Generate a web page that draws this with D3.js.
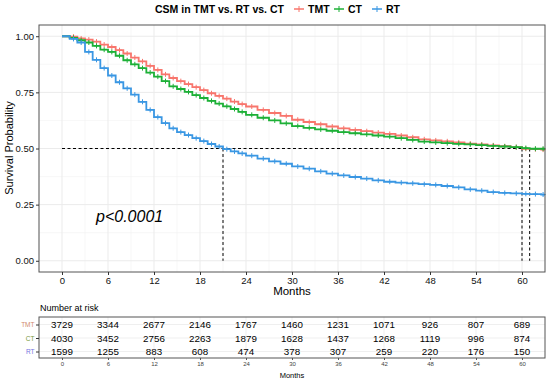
<!DOCTYPE html>
<html lang="en">
<head>
<meta charset="UTF-8">
<title>CSM in TMT vs. RT vs. CT</title>
<script src="https://cdn.jsdelivr.net/npm/d3@7"></script>
<style>
  body { margin: 0; background: #fff; }
  svg { display: block; font-family: 'Liberation Sans', Arial, sans-serif; }
</style>
</head>
<body>
<div id="chart"></div>
<script>
// survival estimates (months -> probability)
var months = [0, 1, 2, 3, 4, 5, 6, 7, 8, 9, 10, 11, 12, 13, 14, 15, 16, 17, 18, 19, 20, 21, 22, 23, 24,
              25.5, 27, 28.5, 30, 31.5, 33, 34.5, 36, 37.5, 39, 40.5, 42, 43.5, 45, 46.5, 48, 49.5, 51, 52.5,
              54, 55.5, 57, 58.5, 60, 61, 62.5];
var tmt = [1.0, 0.998, 0.990, 0.985, 0.976, 0.963, 0.952, 0.938, 0.923, 0.905, 0.888, 0.868, 0.850, 0.830, 0.814, 0.800, 0.787, 0.773, 0.760, 0.746, 0.734, 0.722, 0.709, 0.698, 0.687,
           0.672, 0.658, 0.645, 0.628, 0.618, 0.608, 0.598, 0.590, 0.583, 0.577, 0.571, 0.565, 0.558, 0.550, 0.541, 0.536, 0.532, 0.527, 0.522,
           0.518, 0.514, 0.510, 0.506, 0.499, 0.497, 0.495];
var ct  = [1.0, 0.993, 0.982, 0.972, 0.957, 0.940, 0.930, 0.913, 0.893, 0.875, 0.858, 0.838, 0.820, 0.800, 0.777, 0.765, 0.752, 0.738, 0.725, 0.712, 0.700, 0.688, 0.676, 0.663, 0.650,
           0.637, 0.625, 0.612, 0.600, 0.592, 0.585, 0.579, 0.573, 0.568, 0.563, 0.558, 0.553, 0.546, 0.538, 0.531, 0.527, 0.524, 0.521, 0.518,
           0.515, 0.512, 0.509, 0.506, 0.502, 0.499, 0.499];
var rt  = [1.0, 0.988, 0.972, 0.930, 0.895, 0.858, 0.825, 0.795, 0.768, 0.740, 0.708, 0.672, 0.640, 0.613, 0.590, 0.573, 0.560, 0.546, 0.533, 0.520, 0.509, 0.497, 0.487, 0.478, 0.468,
           0.455, 0.443, 0.432, 0.420, 0.410, 0.398, 0.388, 0.380, 0.373, 0.366, 0.358, 0.352, 0.348, 0.345, 0.341, 0.338, 0.333, 0.327, 0.318,
           0.312, 0.306, 0.302, 0.300, 0.298, 0.297, 0.295];

var groups = ['TMT', 'CT', 'RT'];
var colors = ['#F8766D', '#1DB037', '#3A97E3'];
var labelColors = ['#d08a6e', '#789a3c', '#7474e0'];

var riskTimes = [0, 6, 12, 18, 24, 30, 36, 42, 48, 54, 60];
var riskTMT = [3729, 3344, 2677, 2146, 1767, 1460, 1231, 1071, 926, 807, 689];
var riskCT  = [4030, 3452, 2756, 2263, 1879, 1628, 1437, 1268, 1119, 996, 874];
var riskRT  = [1599, 1255, 883, 608, 474, 378, 307, 259, 220, 176, 150];

var yTicks = [0, 0.25, 0.5, 0.75, 1];

var W = 550, H = 381;
var svg = d3.select('#chart').append('svg').attr('width', W).attr('height', H);

var x = d3.scaleLinear().domain([-3, 63]).range([39, 545]);
var y = d3.scaleLinear().domain([-0.05, 1.05]).range([272, 25]);

var series = [tmt, ct, rt].map(function(s, i) {
  var pts = months.map(function(m, j) { return { t: m, s: s[j] }; });
  pts.push({ t: 63, s: s[s.length - 1] });
  return { name: groups[i], color: colors[i], pts: pts };
});

// grid
var grid = svg.append('g');
var xMinor = d3.range(-3, 64, 6), yMinor = [0.125, 0.375, 0.625, 0.875];
grid.selectAll('.vmin').data(xMinor).enter().append('line')
  .attr('x1', d => x(d)).attr('x2', d => x(d)).attr('y1', 25).attr('y2', 272)
  .attr('stroke', '#f2f2f2').attr('stroke-width', 0.6);
grid.selectAll('.hmin').data(yMinor).enter().append('line')
  .attr('x1', 39).attr('x2', 545).attr('y1', d => y(d)).attr('y2', d => y(d))
  .attr('stroke', '#f2f2f2').attr('stroke-width', 0.6);
grid.selectAll('.vmaj').data(riskTimes).enter().append('line')
  .attr('x1', d => x(d)).attr('x2', d => x(d)).attr('y1', 25).attr('y2', 272)
  .attr('stroke', '#ebebeb').attr('stroke-width', 1);
grid.selectAll('.hmaj').data(yTicks).enter().append('line')
  .attr('x1', 39).attr('x2', 545).attr('y1', d => y(d)).attr('y2', d => y(d))
  .attr('stroke', '#ebebeb').attr('stroke-width', 1);

// median lines
var medians = series.map(function(d) {
  var p = d.pts.find(function(q) { return q.s <= 0.5; });
  return p ? p.t : null;
});
var med = svg.append('g').attr('stroke', '#000').attr('stroke-dasharray', '3,2.5').attr('stroke-width', 1);
med.append('line').attr('x1', x(0)).attr('x2', x(d3.max(medians))).attr('y1', y(0.5)).attr('y2', y(0.5));
medians.forEach(function(m) {
  med.append('line').attr('x1', x(m)).attr('x2', x(m)).attr('y1', y(0.5)).attr('y2', y(0));
});

// curves
var line = d3.line().x(d => x(d.t)).y(d => y(d.s)).curve(d3.curveStepAfter);
series.forEach(function(d) {
  var g = svg.append('g');
  g.append('path').datum(d.pts).attr('d', line)
    .attr('fill', 'none').attr('stroke', d.color).attr('stroke-width', 1.8);
  var marks = d.pts.slice(1, -1).map(function(p, k) {
    return { t: (p.t + d.pts[k + 2].t) / 2, s: p.s };
  });
  g.selectAll('path.cens').data(marks).enter().append('path')
    .attr('d', function(p) {
      var cx = x(p.t), cy = y(p.s);
      return 'M' + (cx - 2.5) + ',' + cy + 'H' + (cx + 2.5) + 'M' + cx + ',' + (cy - 2.5) + 'V' + (cy + 2.5);
    })
    .attr('stroke', d.color).attr('stroke-width', 1);
});

// panel border + axes
svg.append('rect').attr('x', 39).attr('y', 25).attr('width', 506).attr('height', 247)
  .attr('fill', 'none').attr('stroke', '#555').attr('stroke-width', 1);

var yAxis = svg.append('g').attr('transform', 'translate(39,0)')
  .call(d3.axisLeft(y).tickValues(yTicks).tickFormat(d3.format('.2f')).tickSize(3).tickPadding(2));
var xAxis = svg.append('g').attr('transform', 'translate(0,272)')
  .call(d3.axisBottom(x).tickValues(riskTimes).tickSize(3).tickPadding(2));
[yAxis, xAxis].forEach(function(a) {
  a.select('.domain').remove();
  a.selectAll('line').attr('stroke', '#333');
  a.selectAll('text').attr('fill', '#111').style('font-size', '9.5px');
});

svg.append('text').attr('transform', 'translate(13,148) rotate(-90)').attr('text-anchor', 'middle')
  .style('font-size', '11px').text('Survival Probability');
svg.append('text').attr('x', x(30)).attr('y', 295).attr('text-anchor', 'middle')
  .style('font-size', '11.5px').text('Months');

svg.append('text').attr('x', 96).attr('y', 222).style('font-size', '16px').style('font-style', 'italic')
  .text('p<0.0001');

// title + legend
svg.append('text').attr('x', 155).attr('y', 13).style('font-size', '10.5px').style('font-weight', 'bold')
  .text('CSM in TMT vs. RT vs. CT');
var legX = [299, 339, 377];
groups.forEach(function(gname, i) {
  var lg = svg.append('g').attr('transform', 'translate(' + legX[i] + ',9)');
  lg.append('line').attr('x1', -5).attr('x2', 5).attr('stroke', colors[i]).attr('stroke-width', 1.5);
  lg.append('line').attr('y1', -3).attr('y2', 3).attr('stroke', colors[i]).attr('stroke-width', 1);
  lg.append('text').attr('x', 9).attr('y', 4).style('font-size', '10.5px').style('font-weight', 'bold').text(gname);
});

// risk table
svg.append('text').attr('x', 40).attr('y', 311).style('font-size', '9px').text('Number at risk');
var ty = d3.scalePoint().domain(groups).range([324.5, 351.5]);
var tg = svg.append('g');
tg.selectAll('.rv').data(riskTimes).enter().append('line')
  .attr('x1', d => x(d)).attr('x2', d => x(d)).attr('y1', 317).attr('y2', 358)
  .attr('stroke', '#ebebeb').attr('stroke-width', 0.8);
tg.selectAll('.rh').data(groups).enter().append('line')
  .attr('x1', 39).attr('x2', 545).attr('y1', d => ty(d)).attr('y2', d => ty(d))
  .attr('stroke', '#ebebeb').attr('stroke-width', 0.8);
tg.append('rect').attr('x', 39).attr('y', 317).attr('width', 506).attr('height', 41)
  .attr('fill', 'none').attr('stroke', '#555').attr('stroke-width', 1);
[riskTMT, riskCT, riskRT].forEach(function(vals, i) {
  tg.selectAll('.n' + i).data(vals).enter().append('text')
    .attr('x', (d, j) => x(riskTimes[j])).attr('y', ty(groups[i]) + 3.5)
    .attr('text-anchor', 'middle').style('font-size', '9.8px').text(d => d);
});
var tyAxis = svg.append('g').attr('transform', 'translate(39,0)')
  .call(d3.axisLeft(ty).tickSize(3).tickPadding(1.5));
tyAxis.select('.domain').remove();
tyAxis.selectAll('line').attr('stroke', '#333');
tyAxis.selectAll('text').style('font-size', '6.5px').attr('fill', (d, i) => labelColors[i]);
var txAxis = svg.append('g').attr('transform', 'translate(0,358)')
  .call(d3.axisBottom(x).tickValues(riskTimes).tickSize(2).tickPadding(2));
txAxis.select('.domain').remove();
txAxis.selectAll('line').attr('stroke', '#555');
txAxis.selectAll('text').style('font-size', '6px').attr('fill', '#444');
svg.append('text').attr('x', x(30)).attr('y', 378).attr('text-anchor', 'middle')
  .style('font-size', '7.5px').text('Months');
</script>
</body>
</html>
